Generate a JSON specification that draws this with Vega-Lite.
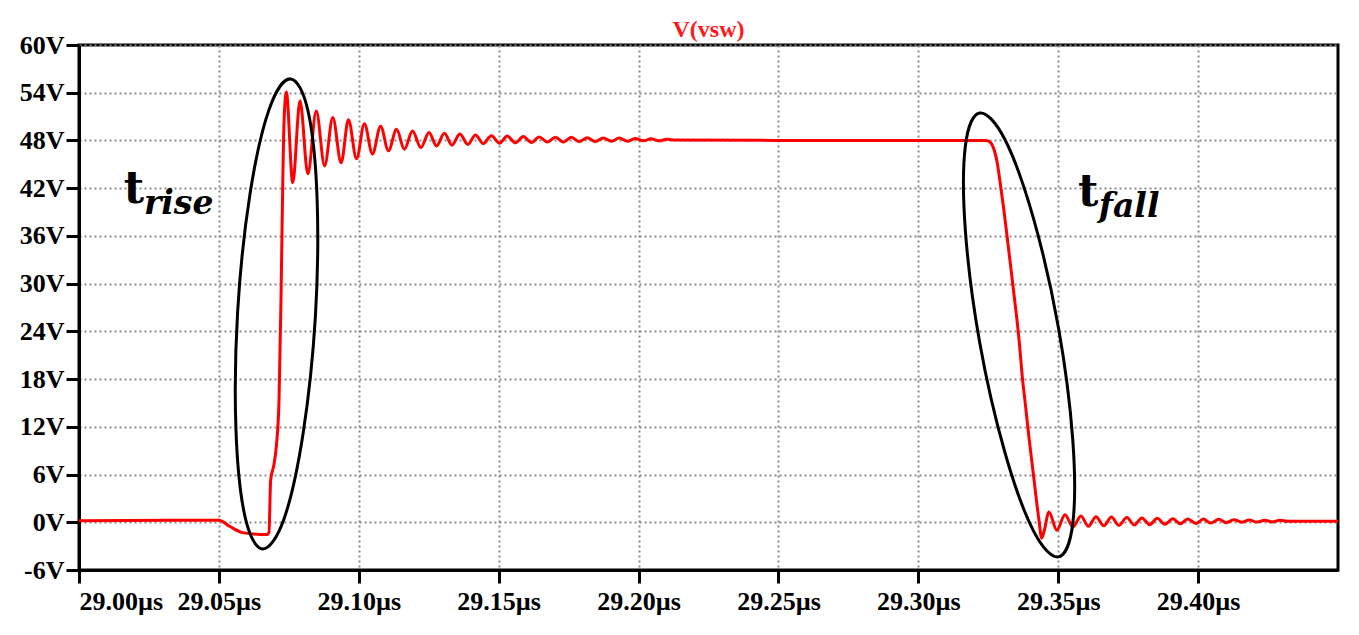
{
  "$schema": "https://vega.github.io/schema/vega-lite/v6.json",
  "width": 1259,
  "height": 525,
  "autosize": {"type": "none"},
  "padding": {"left": 79, "top": 45, "right": 21, "bottom": 65},
  "background": "white",
  "title": {
    "text": "V(vsw)",
    "color": "#ff1a1a",
    "font": "Liberation Serif",
    "fontSize": 24,
    "fontWeight": "bold",
    "anchor": "middle",
    "offset": -10
  },
  "config": {
    "view": {"stroke": "black", "strokeWidth": 3},
    "axis": {
      "labelFont": "Liberation Serif",
      "labelFontSize": 26,
      "labelFontWeight": "bold",
      "labelColor": "black",
      "domainColor": "black",
      "domainWidth": 3,
      "tickColor": "black",
      "tickWidth": 3,
      "tickSize": 13,
      "grid": true,
      "gridColor": "#8a8a8a",
      "gridDash": [2, 3],
      "gridWidth": 2,
      "title": null
    }
  },
  "datasets": {
    "vsw": [
      {"t": 29.0000, "v": 0.2},
      {"t": 29.0500, "v": 0.25},
      {"t": 29.0538, "v": -0.5},
      {"t": 29.0585, "v": -1.3},
      {"t": 29.0670, "v": -1.55},
      {"t": 29.0679, "v": -1.3},
      {"t": 29.0685, "v": 5.3},
      {"t": 29.0697, "v": 7.3},
      {"t": 29.0706, "v": 9.8},
      {"t": 29.0715, "v": 15.4},
      {"t": 29.0722, "v": 28.0},
      {"t": 29.0728, "v": 42.0},
      {"t": 29.0733, "v": 50.5},
      {"t": 29.0741, "v": 54.1},
      {"t": 29.0764, "v": 42.7},
      {"t": 29.0790, "v": 53.0},
      {"t": 29.0818, "v": 43.8},
      {"t": 29.0848, "v": 51.7},
      {"t": 29.0878, "v": 44.8},
      {"t": 29.0907, "v": 50.9},
      {"t": 29.0937, "v": 45.2},
      {"t": 29.0963, "v": 50.6},
      {"t": 29.0992, "v": 45.7},
      {"t": 29.1020, "v": 50.1},
      {"t": 29.1049, "v": 46.3},
      {"t": 29.1078, "v": 49.8},
      {"t": 29.1106, "v": 46.7},
      {"t": 29.1135, "v": 49.4},
      {"t": 29.1163, "v": 46.9},
      {"t": 29.1192, "v": 49.2},
      {"t": 29.1222, "v": 47.1},
      {"t": 29.1251, "v": 49.0},
      {"t": 29.1278, "v": 47.3},
      {"t": 29.1306, "v": 48.9},
      {"t": 29.1333, "v": 47.4},
      {"t": 29.1361, "v": 48.8},
      {"t": 29.1390, "v": 47.5},
      {"t": 29.1417, "v": 48.7},
      {"t": 29.1445, "v": 47.6},
      {"t": 29.1474, "v": 48.6},
      {"t": 29.1503, "v": 47.65},
      {"t": 29.1531, "v": 48.55},
      {"t": 29.1560, "v": 47.7},
      {"t": 29.1588, "v": 48.5},
      {"t": 29.1617, "v": 47.75},
      {"t": 29.1645, "v": 48.45},
      {"t": 29.1674, "v": 47.8},
      {"t": 29.1703, "v": 48.4},
      {"t": 29.1731, "v": 47.8},
      {"t": 29.1760, "v": 48.4},
      {"t": 29.1788, "v": 47.85},
      {"t": 29.1817, "v": 48.35},
      {"t": 29.1845, "v": 47.85},
      {"t": 29.1874, "v": 48.3},
      {"t": 29.1903, "v": 47.9},
      {"t": 29.1931, "v": 48.3},
      {"t": 29.1960, "v": 47.9},
      {"t": 29.1988, "v": 48.25},
      {"t": 29.2017, "v": 47.95},
      {"t": 29.2045, "v": 48.2},
      {"t": 29.2074, "v": 47.95},
      {"t": 29.2103, "v": 48.15},
      {"t": 29.2131, "v": 48.05},
      {"t": 29.2700, "v": 48.0},
      {"t": 29.3241, "v": 48.0},
      {"t": 29.3256, "v": 47.8},
      {"t": 29.3267, "v": 47.2},
      {"t": 29.3282, "v": 45.2},
      {"t": 29.3294, "v": 42.3},
      {"t": 29.3306, "v": 39.2},
      {"t": 29.3318, "v": 35.7},
      {"t": 29.3330, "v": 32.2},
      {"t": 29.3342, "v": 28.6},
      {"t": 29.3354, "v": 25.0},
      {"t": 29.3362, "v": 22.2},
      {"t": 29.3371, "v": 18.5},
      {"t": 29.3383, "v": 14.7},
      {"t": 29.3395, "v": 10.8},
      {"t": 29.3413, "v": 5.5},
      {"t": 29.3431, "v": 0.3},
      {"t": 29.3441, "v": -2.0},
      {"t": 29.3449, "v": -1.2},
      {"t": 29.3467, "v": 1.3},
      {"t": 29.3495, "v": -1.0},
      {"t": 29.3524, "v": 0.95},
      {"t": 29.3553, "v": -0.6},
      {"t": 29.3581, "v": 0.8},
      {"t": 29.3608, "v": -0.5},
      {"t": 29.3635, "v": 0.7},
      {"t": 29.3663, "v": -0.45},
      {"t": 29.3690, "v": 0.65},
      {"t": 29.3717, "v": -0.4},
      {"t": 29.3745, "v": 0.6},
      {"t": 29.3772, "v": -0.35},
      {"t": 29.3799, "v": 0.55},
      {"t": 29.3827, "v": -0.3},
      {"t": 29.3854, "v": 0.5},
      {"t": 29.3881, "v": -0.25},
      {"t": 29.3910, "v": 0.45},
      {"t": 29.3936, "v": -0.2},
      {"t": 29.3963, "v": 0.42},
      {"t": 29.3992, "v": -0.15},
      {"t": 29.4019, "v": 0.4},
      {"t": 29.4045, "v": -0.1},
      {"t": 29.4074, "v": 0.37},
      {"t": 29.4101, "v": -0.05},
      {"t": 29.4128, "v": 0.33},
      {"t": 29.4156, "v": 0.0},
      {"t": 29.4183, "v": 0.3},
      {"t": 29.4210, "v": 0.02},
      {"t": 29.4238, "v": 0.27},
      {"t": 29.4265, "v": 0.05},
      {"t": 29.4292, "v": 0.25},
      {"t": 29.4320, "v": 0.12},
      {"t": 29.4500, "v": 0.12}
    ],
    "ellipses": [
      {"e": "rise", "i": 0, "t": 29.0756, "v": 55.74},
      {"e": "rise", "i": 1, "t": 29.0819, "v": 51.64},
      {"e": "rise", "i": 2, "t": 29.0851, "v": 40.72},
      {"e": "rise", "i": 3, "t": 29.0845, "v": 25.91},
      {"e": "rise", "i": 4, "t": 29.0801, "v": 11.17},
      {"e": "rise", "i": 5, "t": 29.0733, "v": 0.45},
      {"e": "rise", "i": 6, "t": 29.0656, "v": -3.35},
      {"e": "rise", "i": 7, "t": 29.0593, "v": 0.76},
      {"e": "rise", "i": 8, "t": 29.0561, "v": 11.68},
      {"e": "rise", "i": 9, "t": 29.0567, "v": 26.49},
      {"e": "rise", "i": 10, "t": 29.0611, "v": 41.22},
      {"e": "rise", "i": 11, "t": 29.0680, "v": 51.94},
      {"e": "fall", "i": 0, "t": 29.3219, "v": 51.45},
      {"e": "fall", "i": 1, "t": 29.3309, "v": 48.15},
      {"e": "fall", "i": 2, "t": 29.3411, "v": 38.27},
      {"e": "fall", "i": 3, "t": 29.3501, "v": 24.43},
      {"e": "fall", "i": 4, "t": 29.3552, "v": 10.37},
      {"e": "fall", "i": 5, "t": 29.3552, "v": -0.16},
      {"e": "fall", "i": 6, "t": 29.3501, "v": -4.35},
      {"e": "fall", "i": 7, "t": 29.3411, "v": -1.05},
      {"e": "fall", "i": 8, "t": 29.3309, "v": 8.83},
      {"e": "fall", "i": 9, "t": 29.3219, "v": 22.67},
      {"e": "fall", "i": 10, "t": 29.3168, "v": 36.74},
      {"e": "fall", "i": 11, "t": 29.3168, "v": 47.27}
    ],
    "labels": [
      {"part": "main", "t": 29.0160, "v": 40.2, "text": "t"},
      {"part": "sub", "t": 29.0232, "v": 38.7, "text": "rise"},
      {"part": "main", "t": 29.3571, "v": 39.7, "text": "t"},
      {"part": "sub", "t": 29.3645, "v": 38.4, "text": "fall"}
    ]
  },
  "layer": [
    {
      "data": {"name": "vsw"},
      "mark": {"type": "line", "color": "#ff0000", "strokeWidth": 3, "interpolate": "monotone", "clip": true},
      "encoding": {
        "x": {
          "field": "t",
          "type": "quantitative",
          "scale": {"domain": [29.0, 29.45], "nice": false, "zero": false},
          "axis": {
            "values": [29.0, 29.05, 29.1, 29.15, 29.2, 29.25, 29.3, 29.35, 29.4],
            "format": ".2f",
            "labelExpr": "datum.label + 'µs'",
            "labelPadding": 5
          }
        },
        "y": {
          "field": "v",
          "type": "quantitative",
          "scale": {"domain": [-6, 60], "nice": false, "zero": false},
          "axis": {
            "values": [-6, 0, 6, 12, 18, 24, 30, 36, 42, 48, 54, 60],
            "labelExpr": "datum.value + 'V'",
            "labelPadding": 2
          }
        }
      }
    },
    {
      "data": {"name": "ellipses"},
      "mark": {"type": "line", "color": "black", "strokeWidth": 3, "interpolate": "cardinal-closed"},
      "encoding": {
        "x": {"field": "t", "type": "quantitative"},
        "y": {"field": "v", "type": "quantitative"},
        "detail": {"field": "e"},
        "order": {"field": "i", "type": "quantitative"}
      }
    },
    {
      "data": {"name": "labels"},
      "transform": [{"filter": "datum.part === 'main'"}],
      "mark": {"type": "text", "font": "DejaVu Serif", "fontWeight": "bold", "fontSize": 44, "align": "left", "baseline": "alphabetic", "color": "black"},
      "encoding": {
        "x": {"field": "t", "type": "quantitative"},
        "y": {"field": "v", "type": "quantitative"},
        "text": {"field": "text"}
      }
    },
    {
      "data": {"name": "labels"},
      "transform": [{"filter": "datum.part === 'sub'"}],
      "mark": {"type": "text", "font": "DejaVu Serif", "fontWeight": "bold", "fontStyle": "italic", "fontSize": 33, "align": "left", "baseline": "alphabetic", "color": "black"},
      "encoding": {
        "x": {"field": "t", "type": "quantitative"},
        "y": {"field": "v", "type": "quantitative"},
        "text": {"field": "text"}
      }
    }
  ]
}
